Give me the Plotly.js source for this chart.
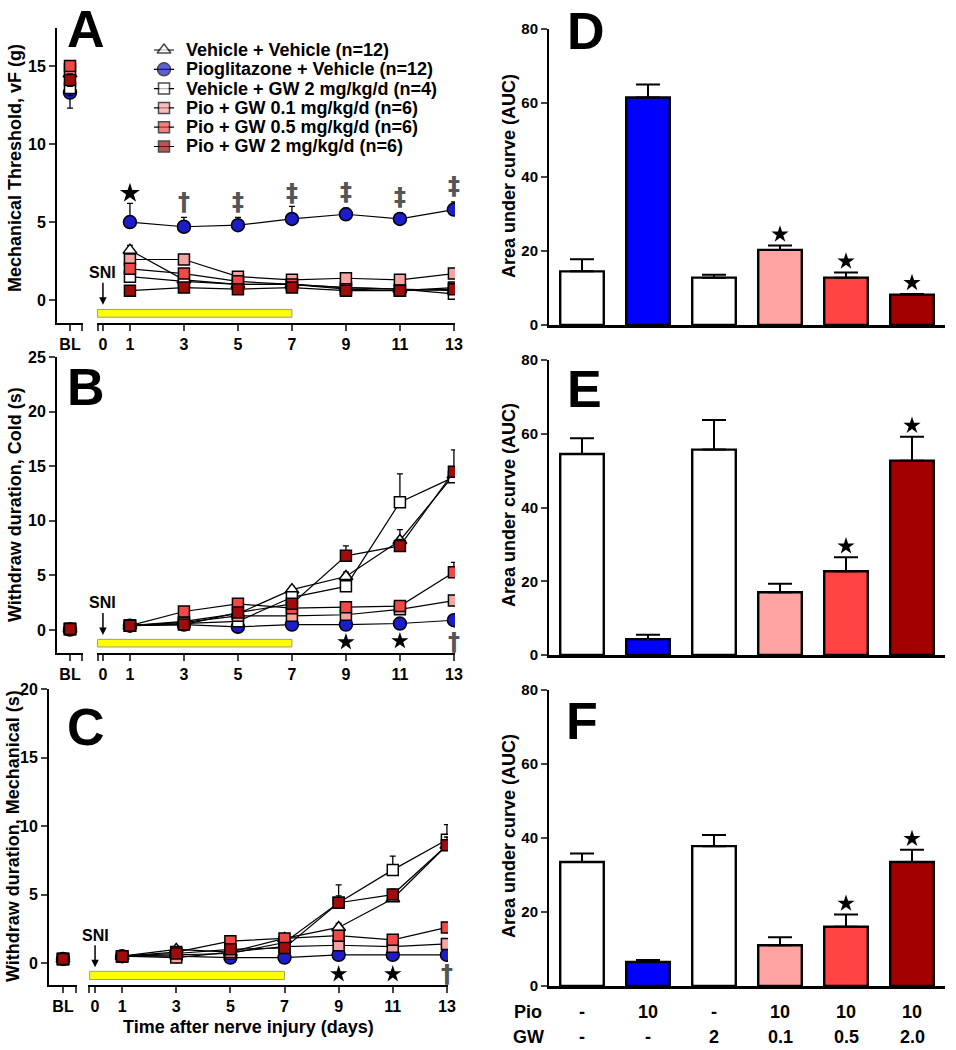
<!DOCTYPE html>
<html>
<head>
<meta charset="utf-8">
<script src="https://cdn.plot.ly/plotly-3.0.1.min.js"></script>
<style>
  body { margin: 0; background: #fff; }
  #chart { width: 956px; height: 1050px; }
</style>
</head>
<body>
<div id="chart"></div>
<script>
// ---- data ----
const groups = ["Vehicle + Vehicle (n=12)", "Pioglitazone + Vehicle (n=12)",
                "Vehicle + GW 2 mg/kg/d (n=4)", "Pio + GW 0.1 mg/kg/d (n=6)",
                "Pio + GW 0.5 mg/kg/d (n=6)", "Pio + GW 2 mg/kg/d (n=6)"];
const days = [1, 3, 5, 7, 9, 11, 13];
const dayTicks = [0, 1, 3, 5, 7, 9, 11, 13];

// panel A: mechanical threshold (g), one row per group
const blA = [14.5, 13.3, 13.6, 14.8, 15.0, 14.1];
const blA_err = [0.4, 1.0, 0.5, 0.3, 0.3, 0.4];
const mechA = [
  [3.2, 1.3, 1.0, 1.0, 0.8, 0.7, 0.6],
  [5.0, 4.7, 4.8, 5.2, 5.5, 5.2, 5.8],
  [1.5, 1.2, 1.0, 1.0, 0.8, 0.7, 0.4],
  [2.6, 2.6, 1.5, 1.3, 1.4, 1.3, 1.7],
  [2.0, 1.7, 1.2, 1.0, 0.7, 0.6, 0.8],
  [0.6, 0.8, 0.7, 0.8, 0.6, 0.6, 0.7],
];
const mechA_err = [
  [0.3, 0.2, 0.2, 0.2, 0.2, 0.2, 0.2],
  [1.2, 0.6, 0.5, 0.8, 0.4, 0.4, 0.5],
  [0.3, 0.2, 0.2, 0.2, 0.2, 0.2, 0.2],
  [0.3, 0.3, 0.2, 0.2, 0.2, 0.2, 0.2],
  [0.3, 0.2, 0.2, 0.2, 0.2, 0.2, 0.2],
  [0.2, 0.2, 0.2, 0.2, 0.2, 0.2, 0.2],
];
const sigA_days = [1, 3, 5, 7, 9, 11, 13];
const sigA_y = [6.85, 6.3, 6.3, 6.85, 6.9, 6.6, 7.3];
const sigA_txt = ["★", "†", "‡", "‡", "‡", "‡", "‡"];

// panel B: withdraw duration, cold (s)
const blB = [0.1, 0.05, 0.1, 0.1, 0.1, 0.1];
const coldB = [
  [0.4, 0.8, 1.5, 3.7, 4.9, 8.2, 14.2],
  [0.4, 0.5, 0.3, 0.5, 0.5, 0.6, 0.9],
  [0.4, 0.6, 0.8, 3.0, 4.0, 11.7, 14.0],
  [0.4, 0.7, 1.3, 1.3, 1.4, 1.9, 2.7],
  [0.4, 1.7, 2.4, 2.0, 2.1, 2.2, 5.3],
  [0.4, 0.5, 1.6, 2.4, 6.8, 7.7, 14.5],
];
const coldB_err = [
  [0.2, 0.2, 0.3, 0.3, 0.4, 1.0, 0.5],
  [0.1, 0.1, 0.1, 0.1, 0.1, 0.1, 0.1],
  [0.2, 0.2, 0.3, 0.4, 0.5, 2.6, 0.5],
  [0.1, 0.2, 0.2, 0.2, 0.2, 0.2, 0.3],
  [0.1, 0.3, 0.3, 0.3, 0.3, 0.3, 0.9],
  [0.1, 0.2, 0.3, 0.3, 0.9, 0.6, 2.0],
];
const sigB_days = [9, 11, 13];
const sigB_y = [-1.1, -1.0, -1.1];
const sigB_txt = ["★", "★", "†"];

// panel C: withdraw duration, mechanical (s)
const blC = [0.3, 0.3, 0.3, 0.3, 0.3, 0.3];
const mechC = [
  [0.5, 1.0, 0.8, 1.8, 2.6, 4.7, 8.6],
  [0.5, 0.5, 0.4, 0.4, 0.6, 0.6, 0.6],
  [0.5, 0.6, 0.7, 1.5, 4.4, 6.8, 9.0],
  [0.5, 0.4, 0.8, 1.2, 1.3, 1.2, 1.4],
  [0.5, 0.8, 1.6, 1.8, 2.0, 1.7, 2.6],
  [0.5, 0.7, 1.0, 1.1, 4.4, 5.0, 8.6],
];
const mechC_err = [
  [0.1, 0.2, 0.2, 0.3, 0.3, 0.5, 0.5],
  [0.1, 0.1, 0.1, 0.1, 0.1, 0.1, 0.1],
  [0.1, 0.2, 0.2, 0.3, 1.3, 1.0, 1.1],
  [0.1, 0.1, 0.1, 0.1, 0.2, 0.2, 0.2],
  [0.1, 0.1, 0.2, 0.2, 0.3, 0.2, 0.2],
  [0.1, 0.1, 0.2, 0.2, 0.5, 0.4, 0.6],
];
const sigC_days = [9, 11, 13];
const sigC_y = [-0.8, -0.8, -0.8];
const sigC_txt = ["★", "★", "†"];

// treatment period and injury day
const treatStart = -0.2, treatEnd = 7;
const sniDay = 0;

// AUC bar panels
const pioDose = ["-", "10", "-", "10", "10", "10"];
const gwDose = ["-", "-", "2", "0.1", "0.5", "2.0"];
const aucD = [14.5, 61.5, 12.8, 20.3, 12.8, 8.2];
const aucD_err = [3.3, 3.5, 0.8, 1.2, 1.4, 0.2];
const aucD_sig = [false, false, false, true, true, true];
const aucE = [54.5, 4.3, 55.7, 17.0, 22.7, 52.7];
const aucE_err = [4.3, 1.2, 8.0, 2.3, 3.8, 6.5];
const aucE_sig = [false, false, false, false, true, true];
const aucF = [33.5, 6.5, 37.8, 11.0, 16.0, 33.5];
const aucF_err = [2.3, 0.5, 3.0, 2.2, 3.3, 3.3];
const aucF_sig = [false, false, false, false, true, true];

// ---- styles ----
const symbols = ["triangle-up", "circle", "square", "square", "square", "square"];
const sizes = [12, 13, 11, 11, 11, 11];
const fills = ["#ffffff", "#1c1cc8", "#ffffff", "#f6a3a3", "#f24848", "#a00c0c"];
const barFills = ["#ffffff", "#0000ff", "#ffffff", "#ffa3a3", "#ff4242", "#a30000"];
const FONT = "Liberation Sans, Arial, sans-serif";

const W = 956, H = 1050;
function dx(a, b) { return [a / W, b / W]; }
function dy(top, bottom) { return [1 - bottom / H, 1 - top / H]; }

let traces = [];
let annotations = [];

function markerFor(g) {
  return {symbol: symbols[g], color: fills[g], size: sizes[g], line: {color: "#000", width: 1.5}};
}

function lineTraces(bl, blErr, vals, errs, xa, xbl, ya) {
  for (let g = 0; g < groups.length; g++) {
    traces.push({
      x: days, y: vals[g], xaxis: xa, yaxis: ya, type: "scatter", mode: "lines+markers",
      name: groups[g], showlegend: false,
      line: {color: "#000", width: 1.2}, marker: markerFor(g),
      error_y: {type: "data", array: errs[g], arrayminus: errs[g].map(() => 0),
                symmetric: false, color: "#000", thickness: 1.3, width: 3},
    });
    traces.push({
      x: [0], y: [bl[g]], xaxis: xbl, yaxis: ya, type: "scatter", mode: "markers",
      showlegend: false, marker: markerFor(g),
      error_y: {type: "data", array: [blErr ? blErr[g] : 0.1], color: "#000", thickness: 1.3, width: 3},
    });
  }
}

lineTraces(blA, blA_err, mechA, mechA_err, "x2", "x", "y");
lineTraces(blB, null, coldB, coldB_err, "x4", "x3", "y2");
lineTraces(blC, null, mechC, mechC_err, "x6", "x5", "y3");

function sigMarks(xs, ys, txt, xa, ya, starSize) {
  const starX = [], starY = [];
  txt.forEach((t, i) => {
    if (t == "★") { starX.push(xs[i]); starY.push(ys[i]); }
    else {
      annotations.push({xref: xa, yref: ya, x: xs[i], y: ys[i], text: "<b>" + t + "</b>", showarrow: false,
                        xanchor: "center", yanchor: "middle",
                        font: {family: "DejaVu Sans, sans-serif", size: 24, color: "#555"}});
    }
  });
  traces.push({x: starX, y: starY, xaxis: xa, yaxis: ya, type: "scatter", mode: "markers",
               showlegend: false, marker: {symbol: "star", size: starSize, color: "#000"}});
}
sigMarks(sigA_days, sigA_y, sigA_txt, "x2", "y", 15);
sigMarks(sigB_days, sigB_y, sigB_txt, "x4", "y2", 13);
sigMarks(sigC_days, sigC_y, sigC_txt, "x6", "y3", 13);

function barTraces(vals, errs, sig, xa, ya) {
  const idx = vals.map((v, i) => i);
  traces.push({
    x: idx, y: vals, xaxis: xa, yaxis: ya, type: "bar", width: 0.66, showlegend: false,
    marker: {color: barFills, line: {color: "#000", width: 2.4}},
    error_y: {type: "data", array: errs, arrayminus: errs.map(() => 0), symmetric: false,
              color: "#000", thickness: 2, width: 12},
  });
  const sx = [], sy = [];
  sig.forEach((s, i) => { if (s) { sx.push(i); sy.push(vals[i] + errs[i] + 3); } });
  traces.push({x: sx, y: sy, xaxis: xa, yaxis: ya, type: "scatter", mode: "markers",
               showlegend: false, marker: {symbol: "star", size: 13, color: "#000"}});
}
barTraces(aucD, aucD_err, aucD_sig, "x7", "y4");
barTraces(aucE, aucE_err, aucE_sig, "x8", "y5");
barTraces(aucF, aucF_err, aucF_sig, "x9", "y6");

// legend of panel A, drawn on its own hidden axis (one row per group)
const legendRowTop = 50, legendRowGap = 19.3;
groups.forEach((name, g) => {
  const m = markerFor(g);
  traces.push({
    x: [0, 0.5, 1], y: [g, g, g], xaxis: "x10", yaxis: "y10", type: "scatter", mode: "lines+markers",
    showlegend: false, line: {color: "#000", width: 1.2},
    marker: {symbol: m.symbol, color: m.color, size: [0, m.size, 0],
             line: {color: "#000", width: [0, 1.5, 0]}},
  });
  annotations.push({xref: "paper", yref: "paper", x: 184 / W, y: 1 - (legendRowTop + g * legendRowGap) / H,
                    text: "<b>" + name + "</b>", showarrow: false, xanchor: "left", yanchor: "middle",
                    font: {family: FONT, size: 18, color: "#000"}});
});

// ---- axes ----
const tickfont = {family: FONT, size: 16, color: "#000", weight: "bold"};
function blAxis(a, b, anchor) {
  return {domain: dx(a, b), range: [-1, 1], anchor: anchor, tickvals: [0, 0.92], ticktext: ["BL", ""],
          ticks: "outside", ticklen: 6, tickwidth: 2, showline: true, linewidth: 2, linecolor: "#000",
          showgrid: false, zeroline: false, tickfont: tickfont};
}
function dayAxis(a, b, range, anchor) {
  return {domain: dx(a, b), range: range, anchor: anchor,
          tickvals: [range[0] + 0.02].concat(dayTicks), ticktext: [""].concat(dayTicks.map(String)),
          ticks: "outside", ticklen: 6, tickwidth: 2, showline: true, linewidth: 2, linecolor: "#000",
          showgrid: false, zeroline: false, tickfont: tickfont};
}
function valAxis(top, bottom, range, anchor, dtick, size) {
  return {domain: dy(top, bottom), range: range, anchor: anchor, dtick: dtick,
          ticks: "outside", ticklen: 6, tickwidth: 2, showline: true, linewidth: 2, linecolor: "#000",
          showgrid: false, zeroline: false, tickfont: Object.assign({}, tickfont, {size: size})};
}
function catAxis(anchor) {
  return {domain: dx(549, 945), range: [-0.5, 5.5], anchor: anchor, showticklabels: false, ticks: "",
          showline: true, linewidth: 2.5, linecolor: "#000", showgrid: false, zeroline: false};
}

const layout = {
  width: W, height: H, margin: {l: 0, r: 0, t: 0, b: 0},
  paper_bgcolor: "#fff", plot_bgcolor: "rgba(0,0,0,0)", showlegend: false,
  font: {family: FONT, color: "#000"},
  xaxis: blAxis(57, 83, "y"),
  xaxis2: dayAxis(97, 455, [-0.22, 13.04], "y"),
  yaxis: valAxis(28, 323, [-1.47, 17.44], "x", 5, 16),
  xaxis3: blAxis(57, 83, "y2"),
  xaxis4: dayAxis(97, 455, [-0.22, 13.04], "y2"),
  yaxis2: valAxis(357, 653, [-2.1, 25], "x3", 5, 16),
  xaxis5: blAxis(49, 77, "y3"),
  xaxis6: dayAxis(88, 448, [-0.26, 13.04], "y3"),
  yaxis3: valAxis(689, 985, [-1.6, 20], "x5", 5, 16),
  xaxis7: catAxis("y4"),
  yaxis4: valAxis(29, 325, [0, 80], "x7", 20, 15),
  xaxis8: catAxis("y5"),
  yaxis5: valAxis(360, 655, [0, 80], "x8", 20, 15),
  xaxis9: catAxis("y6"),
  yaxis6: valAxis(690, 986, [0, 80], "x9", 20, 15),
  xaxis10: {domain: dx(152, 176), range: [-0.1, 1.1], anchor: "y10", visible: false},
  yaxis10: {domain: dy(legendRowTop - legendRowGap / 2, legendRowTop + 5.5 * legendRowGap),
            range: [5.5, -0.5], anchor: "x10", visible: false},
  shapes: [],
  annotations: annotations,
};

// treatment bars
[["x2", "y", -1.1, -0.6], ["x4", "y2", -1.55, -0.85], ["x6", "y3", -1.2, -0.6]].forEach(s => {
  layout.shapes.push({type: "rect", xref: s[0], yref: s[1], x0: treatStart, x1: treatEnd, y0: s[2], y1: s[3],
                      fillcolor: "#ffff00", line: {color: "#9a9a9a", width: 1}});
});

// SNI arrows
[["x2", "y", -0.3], ["x4", "y2", -0.45], ["x6", "y3", -0.3]].forEach(s => {
  annotations.push({xref: s[0], yref: s[1], x: sniDay, y: s[2], text: "<b>SNI</b>",
                    showarrow: true, arrowhead: 2, arrowsize: 1, arrowwidth: 1.5, arrowcolor: "#000",
                    ax: 0, ay: -32, font: {family: FONT, size: 16}});
});

// panel letters
[["A", 86, 29], ["B", 86, 387], ["C", 86, 727], ["D", 586, 31], ["E", 584, 389], ["F", 582, 721]].forEach(p => {
  annotations.push({xref: "paper", yref: "paper", x: p[1] / W, y: 1 - p[2] / H, text: "<b>" + p[0] + "</b>",
                    showarrow: false, xanchor: "center", yanchor: "middle",
                    font: {family: FONT, size: 52, color: "#000"}});
});

// axis titles
function vTitle(text, x, y) {
  annotations.push({xref: "paper", yref: "paper", x: x / W, y: 1 - y / H, text: "<b>" + text + "</b>",
                    textangle: -90, showarrow: false, xanchor: "center", yanchor: "middle",
                    font: {family: FONT, size: 18, color: "#000"}});
}
vTitle("Mechanical Threshold, vF (g)", 15, 168);
vTitle("Withdraw duration, Cold (s)", 15, 505);
vTitle("Withdraw duration, Mechanical (s)", 13, 836);
vTitle("Area under curve (AUC)", 509, 176);
vTitle("Area under curve (AUC)", 509, 505);
vTitle("Area under curve (AUC)", 509, 836);
annotations.push({xref: "paper", yref: "paper", x: 248 / W, y: 1 - 1027 / H,
                  text: "<b>Time after nerve injury (days)</b>", showarrow: false,
                  xanchor: "center", yanchor: "middle", font: {family: FONT, size: 18}});

// dose table under panel F
[["Pio", pioDose, 1012], ["GW", gwDose, 1037]].forEach(r => {
  annotations.push({xref: "paper", yref: "paper", x: 528 / W, y: 1 - r[2] / H, text: "<b>" + r[0] + "</b>",
                    showarrow: false, xanchor: "center", yanchor: "middle", font: {family: FONT, size: 18}});
  r[1].forEach((t, i) => {
    annotations.push({xref: "x9", yref: "paper", x: i, y: 1 - r[2] / H, text: "<b>" + t + "</b>",
                      showarrow: false, xanchor: "center", yanchor: "middle", font: {family: FONT, size: 18}});
  });
});

Plotly.newPlot("chart", traces, layout, {displayModeBar: false, staticPlot: true});
</script>
</body>
</html>
